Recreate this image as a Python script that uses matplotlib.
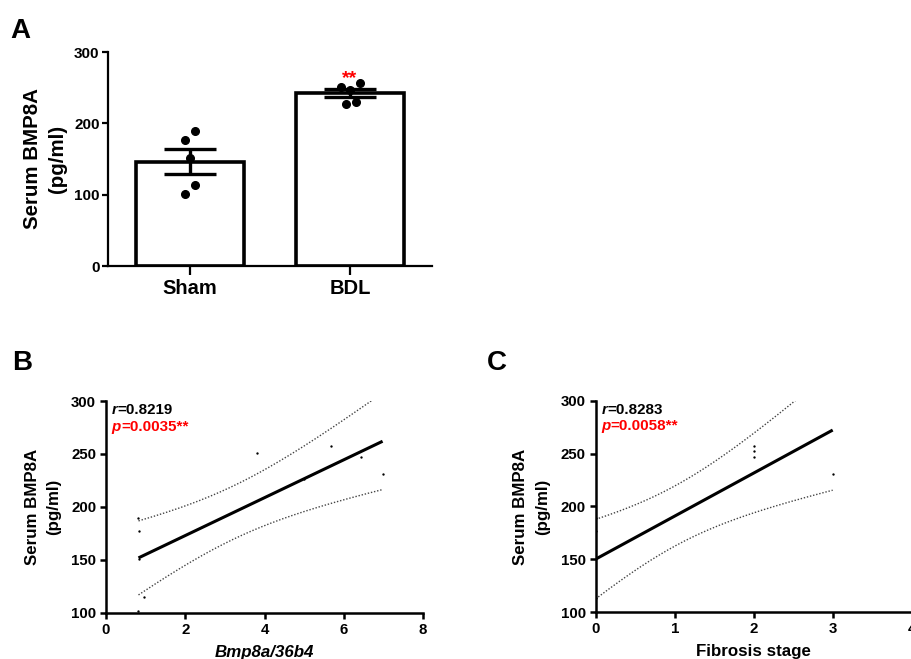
import numpy as np
import matplotlib
matplotlib.use('Agg')
import matplotlib.pyplot as plt

plt.rcParams['font.family'] = ['Liberation Sans', 'DejaVu Sans']
plt.rcParams['font.weight'] = 'bold'
plt.rcParams['axes.labelweight'] = 'bold'

# ---------------- data ----------------
groups = ['Sham', 'BDL']
sham_vals = [189.0, 176.6, 151.0, 113.5, 100.5]
bdl_vals = [250.5, 257.0, 246.7, 226.7, 230.0]
sham_jitter = [0.031, -0.031, 0.0, 0.031, -0.031]
bdl_jitter = [-0.058, 0.0625, 0.0, -0.025, 0.0375]

bmp_ratio = [0.82, 0.84, 0.84, 0.95, 0.82, 3.82, 5.68, 6.43, 6.98, 5.00]
bmp_serum = [189.7, 177.2, 151.0, 114.5, 101.9, 251.0, 257.2, 246.8, 230.7, 226.7]

fib_stage = [0, 0, 0, 0, 0, 2, 2, 2, 3]
fib_serum = [189.0, 176.6, 151.0, 113.5, 100.5, 257.5, 252.5, 247.1, 230.7]

r_B, p_B = '0.8219', '0.0035**'
r_C, p_C = '0.8283', '0.0058**'

T95 = {7: 2.365, 8: 2.306}  # two-sided 95% t critical values

W, H = 911, 659
fig = plt.figure(figsize=(W / 100, H / 100), dpi=100)


def frac(left, top, right, bottom):
    return [left / W, 1 - bottom / H, (right - left) / W, (bottom - top) / H]


RED = '#ff0000'

# ---------------- Panel A ----------------
axA = fig.add_axes(frac(108, 52, 432, 266))
means = [np.mean(sham_vals), np.mean(bdl_vals)]
sems = [np.std(sham_vals, ddof=1) / np.sqrt(len(sham_vals)),
        np.std(bdl_vals, ddof=1) / np.sqrt(len(bdl_vals))]
xpos = np.arange(len(groups))
axA.bar(xpos, means, width=0.68, color='white', edgecolor='black',
        linewidth=2.6, zorder=2)
axA.errorbar(xpos, means, yerr=sems, fmt='none', ecolor='black',
             elinewidth=2.4, capsize=19, capthick=2.4, zorder=3)
axA.plot(xpos[0] + np.array(sham_jitter), sham_vals, 'o', color='black',
         ms=5.5, zorder=4, clip_on=False)
axA.plot(xpos[1] + np.array(bdl_jitter), bdl_vals, 'o', color='black',
         ms=5.5, zorder=4, clip_on=False)
axA.text(1, 256, '**', color=RED, ha='center', va='baseline', fontsize=14)
axA.set_xlim(-0.5125, 1.5125)
axA.set_ylim(0, 300)
axA.set_yticks([0, 100, 200, 300])
axA.set_xticks(xpos)
axA.set_xticklabels(groups, fontsize=14.5)
axA.tick_params(axis='y', labelsize=11, length=4.5, width=1.6, pad=1.5)
axA.tick_params(axis='x', length=6.5, width=1.6, pad=3)
for s in ['top', 'right']:
    axA.spines[s].set_visible(False)
for s in ['left', 'bottom']:
    axA.spines[s].set_linewidth(1.6)
axA.set_ylabel('Serum BMP8A\n(pg/ml)', fontsize=14.8, linespacing=1.4)
axA.yaxis.set_label_coords(-0.128, 0.5)


def reg_band(x, y, xs):
    x = np.asarray(x, float)
    y = np.asarray(y, float)
    n = len(x)
    xm, ym = x.mean(), y.mean()
    sxx = np.sum((x - xm) ** 2)
    b = np.sum((x - xm) * (y - ym)) / sxx
    a = ym - b * xm
    resid = y - (a + b * x)
    s = np.sqrt(np.sum(resid ** 2) / (n - 2))
    se = s * np.sqrt(1 / n + (xs - xm) ** 2 / sxx)
    fit = a + b * xs
    t = T95[n - 2]
    return fit, fit - t * se, fit + t * se


def corr_panel(ax, x, y, xlim, xticks, xlabel, rtxt, ptxt, italic_xlabel,
               ylab_x):
    ax.plot(x, y, 'o', color='black', ms=1.7, mew=0, zorder=1)
    xs = np.linspace(min(x), max(x), 200)
    fit, lo, hi = reg_band(x, y, xs)
    ax.plot(xs, fit, color='black', lw=2.2, solid_capstyle='butt', zorder=3)
    for band in (lo, hi):
        ax.plot(xs, band, color='#444444', lw=1.0,
                linestyle=(0, (1, 1.3)), zorder=2)
    ax.set_xlim(*xlim)
    ax.set_ylim(100, 300)
    ax.set_xticks(xticks)
    ax.set_yticks([100, 150, 200, 250, 300])
    ax.tick_params(labelsize=10.8, length=4.6, width=1.8, pad=2.5)
    for s in ['top', 'right']:
        ax.spines[s].set_visible(False)
    for s in ['left', 'bottom']:
        ax.spines[s].set_linewidth(1.8)
        ax.spines[s].set_zorder(5)
    ax.set_ylabel('Serum BMP8A\n(pg/ml)', fontsize=12.2, linespacing=1.55)
    ax.yaxis.set_label_coords(ylab_x, 0.5)
    ax.set_xlabel(xlabel, fontsize=12.2,
                  style='italic' if italic_xlabel else 'normal')
    ax.xaxis.set_label_coords(0.5, -0.152)
    t1 = ax.text(0.018, 0.938, 'r', transform=ax.transAxes, fontsize=10.9,
                 style='italic', va='baseline', ha='left')
    ax.annotate('=' + rtxt, xy=(1, 0), xycoords=t1, va='bottom', ha='left',
                fontsize=10.9)
    t2 = ax.text(0.018, 0.86, 'p', transform=ax.transAxes, fontsize=10.9,
                 style='italic', va='baseline', ha='left', color=RED)
    ax.annotate('=' + ptxt, xy=(1, 0), xycoords=t2, va='bottom', ha='left',
                fontsize=10.9, color=RED)


axB = fig.add_axes(frac(106, 401, 423, 612.7))
corr_panel(axB, bmp_ratio, bmp_serum, (0, 8), [0, 2, 4, 6, 8],
           'Bmp8a/36b4', r_B, p_B, True, -0.14)

axC = fig.add_axes(frac(595.7, 400.7, 911.7, 612.3))
corr_panel(axC, fib_stage, fib_serum, (0, 4), [0, 1, 2, 3, 4],
           'Fibrosis stage', r_C, p_C, False, -0.145)

# panel letters
fig.text(10 / W, 1 - 38 / H, 'A', fontsize=20, ha='left', va='baseline')
fig.text(12 / W, 1 - 370 / H, 'B', fontsize=20, ha='left', va='baseline')
fig.text(487 / W, 1 - 370 / H, 'C', fontsize=20, ha='left', va='baseline')

fig.savefig('out.png', dpi=100)
